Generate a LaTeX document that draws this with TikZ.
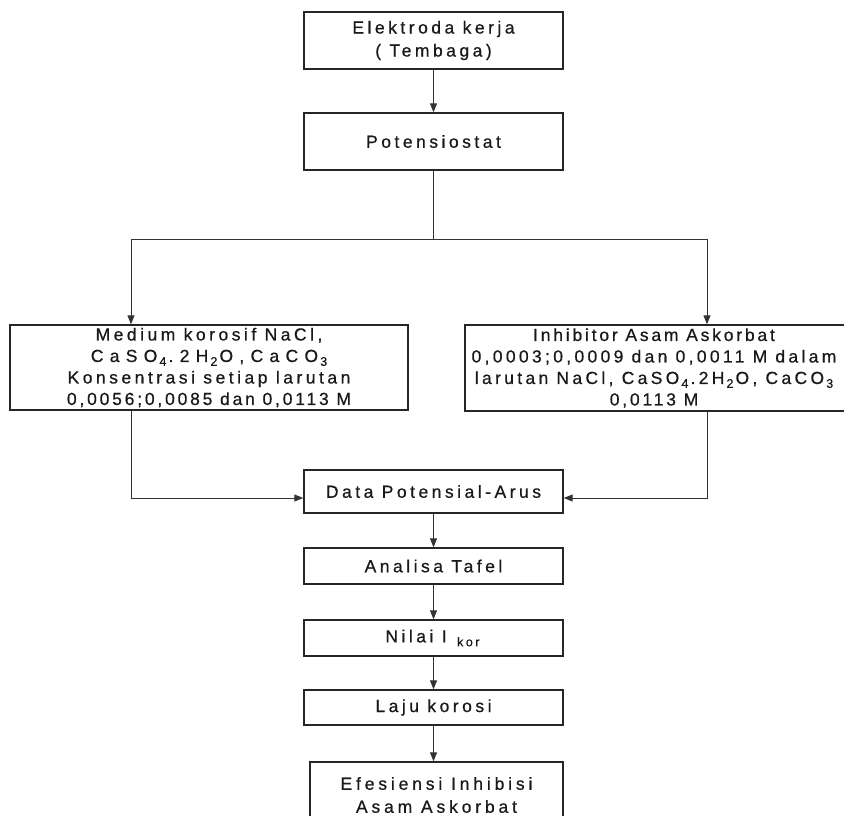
\documentclass[tikz,border=0pt]{standalone}
\usepackage{fontspec}
\setmainfont{Liberation Sans}
\newfontfamily\lsA[LetterSpace=20,FakeBold=0.6]{Liberation Sans}
\newfontfamily\lsB[LetterSpace=22,FakeBold=0.6]{Liberation Sans}
\newfontfamily\lsD[LetterSpace=36,FakeBold=0.6]{Liberation Sans}
\newfontfamily\lsE[LetterSpace=16,FakeBold=0.6]{Liberation Sans}
\newfontfamily\lsG[LetterSpace=19,FakeBold=0.6]{Liberation Sans}
\usetikzlibrary{arrows.meta}
\newcommand\sbx[1]{\hspace{0.12em}\raisebox{-0.22em}{\fontsize{12.5}{12.5}\selectfont #1}\hspace{0.12em}}
\tikzset{
  box/.style={draw=black!85, line width=1.4pt, inner sep=0pt, fill=none},
  txt/.style={inner sep=0pt, align=center, font=\lsA\fontsize{17.5}{23}\selectfont, text=black!90},
  conn/.style={draw=black!80, line width=1pt},
  arr/.style={conn, -{Triangle[length=9pt,width=7pt]}}
}
\begin{document}
\begin{tikzpicture}[x=1pt,y=-1pt]
\clip (0,0) rectangle (844,815);
\fill[white] (0,0) rectangle (844,815);
% boxes
\node[box, minimum width=259, minimum height=57] (e1) at (433.5,40.5) {};
\node[txt] (e1t) at (e1) {Elektroda kerja\\( Tembaga)};
\node[box, minimum width=259, minimum height=57] (pot) at (433.5,141.5) {};
\node[txt] (pott) at (pot) {Potensiostat};
\node[box, minimum width=398, minimum height=85] (med) at (209,367.5) {};
\node[txt, font=\lsA\fontsize{17.5}{21.5}\selectfont] (medt) at (med) {{\lsA Medium korosif NaCl,}\\{\lsD CaSO\sbx{4}.2H\sbx{2}O,CaCO\sbx{3}}\\{\lsA Konsentrasi setiap larutan}\\{\lsE 0,0056;0,0085 dan 0,0113 M}};
\node[box, minimum width=384, minimum height=86] (inh) at (657,368) {};
\node[txt, font=\lsE\fontsize{17.5}{21.5}\selectfont] (inht) at ([xshift=-3pt]inh) {{\lsE Inhibitor Asam Askorbat}\\{\lsG 0,0003;0,0009 dan 0,0011 M dalam}\\{\lsG larutan NaCl, CaSO\sbx{4}.2H\sbx{2}O, CaCO\sbx{3}}\\{\lsE 0,0113 M}};
\node[box, minimum width=259, minimum height=43] (data) at (433.5,491.5) {};
\node[txt] (datat) at (data) {Data Potensial-Arus};
\node[box, minimum width=259, minimum height=36] (taf) at (433.5,566) {};
\node[txt] (taft) at (taf) {Analisa Tafel};
\node[box, minimum width=259, minimum height=36] (nil) at (433.5,638) {};
\node[txt] (nilt) at (nil) {Nilai I \sbx{kor}};
\node[box, minimum width=259, minimum height=35] (laju) at (433.5,707.5) {};
\node[txt] (lajut) at (laju) {Laju korosi};
\node[box, minimum width=253, minimum height=60] (ef) at (436.5,792) {};
\node[txt] (eft) at ([yshift=-3pt]ef) {{\lsB Efesiensi Inhibisi}\\{\lsB Asam Askorbat}};
% connectors
\coordinate (split) at (433.5,239);
\coordinate (L) at (131,239);
\coordinate (R) at (707,239);
\coordinate (dl) at (131,498);
\coordinate (dr) at (707,498);
\draw[arr] (e1.south) -- (pot.north);
\draw[conn] (pot.south) -- (split);
\draw[arr] (split) -- (L) -- (L |- med.north);
\draw[arr] (split) -- (R) -- (R |- inh.north);
\draw[arr] (L |- med.south) -- (dl) -- (dl -| data.west);
\draw[arr] (R |- inh.south) -- (dr) -- (dr -| data.east);
\draw[arr] (data.south) -- (taf.north);
\draw[arr] (taf.south) -- (nil.north);
\draw[arr] (nil.south) -- (laju.north);
\draw[arr] (laju.south) -- (laju.south |- ef.north);
\end{tikzpicture}
\end{document}
